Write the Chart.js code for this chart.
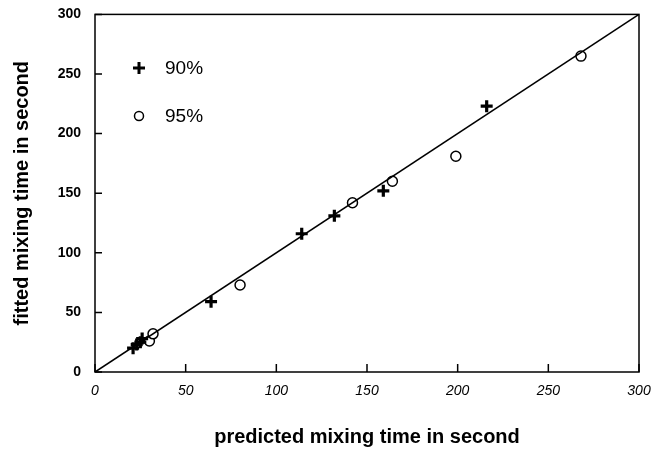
<html><head>
  <title>Mixing time: fitted vs predicted</title>
  <script src="https://cdn.jsdelivr.net/npm/chart.js"></script>
  <style>
    body { margin: 0; background: #fff; }
    #wrap { width: 654px; height: 454px; }
  </style>
</head>
<body>
  <div id="wrap"><canvas id="mixChart" width="654" height="454"></canvas></div>

  <script>
    // values
    const tickValues = [0, 50, 100, 150, 200, 250, 300];
    const x90 = [21, 23, 25, 26, 64, 114, 132, 159, 216];
    const y90 = [20, 23, 25, 28, 59, 116, 131, 152, 223];
    const x95 = [30, 32, 80, 142, 164, 199, 268];
    const y95 = [26, 32, 73, 142, 160, 181, 265];
    const fitX = [0, 300];
    const fitY = [0, 300];
    const legendLabels = ['90%', '95%'];

    const toPoints = (xs, ys) => xs.map((x, i) => ({ x: x, y: ys[i] }));

    // frame, inward ticks and the in-plot legend
    const framePlugin = {
      id: 'frame',
      afterDraw(chart) {
        const { ctx, chartArea: a, scales } = chart;
        ctx.save();
        ctx.strokeStyle = '#000';
        ctx.lineWidth = 1.5;
        ctx.strokeRect(a.left, a.top, a.right - a.left, a.bottom - a.top);
        ctx.beginPath();
        tickValues.forEach(v => {
          const px = scales.x.getPixelForValue(v);
          ctx.moveTo(px, a.bottom); ctx.lineTo(px, a.bottom - 8);
          const py = scales.y.getPixelForValue(v);
          ctx.moveTo(a.left, py); ctx.lineTo(a.left + 7, py);
        });
        ctx.stroke();

        // legend
        const lx = 139, ly = [68, 116];
        ctx.lineWidth = 3;
        ctx.beginPath();
        ctx.moveTo(lx - 6, ly[0]); ctx.lineTo(lx + 6, ly[0]);
        ctx.moveTo(lx, ly[0] - 6); ctx.lineTo(lx, ly[0] + 6);
        ctx.stroke();
        ctx.lineWidth = 1.5;
        ctx.beginPath();
        ctx.arc(lx, ly[1], 4.5, 0, Math.PI * 2);
        ctx.stroke();
        ctx.fillStyle = '#000';
        ctx.font = '19px "Liberation Sans", Arial, sans-serif';
        ctx.textBaseline = 'middle';
        legendLabels.forEach((t, i) => ctx.fillText(t, 165, ly[i] + 1));
        ctx.restore();
      }
    };

    new Chart(document.getElementById('mixChart'), {
      type: 'scatter',
      data: {
        datasets: [
          {
            label: 'fit',
            type: 'line',
            data: toPoints(fitX, fitY),
            borderColor: '#000',
            borderWidth: 1.6,
            pointRadius: 0,
            fill: false
          },
          {
            label: legendLabels[0],
            data: toPoints(x90, y90),
            pointStyle: 'cross',
            pointRadius: 6,
            borderWidth: 3.2,
            borderColor: '#000',
            backgroundColor: '#000'
          },
          {
            label: legendLabels[1],
            data: toPoints(x95, y95),
            pointStyle: 'circle',
            pointRadius: 5,
            borderWidth: 1.5,
            borderColor: '#000',
            backgroundColor: '#fff'
          }
        ]
      },
      options: {
        responsive: false,
        animation: false,
        layout: { padding: { top: 0, right: 15, left: 0, bottom: 0 } },
        plugins: {
          legend: { display: false },
          tooltip: { enabled: false }
        },
        scales: {
          x: {
            type: 'linear',
            min: 0, max: 300,
            afterFit: s => { s.height = 82; },
            afterBuildTicks: s => { s.ticks = tickValues.map(v => ({ value: v })); },
            grid: { display: false },
            border: { display: false },
            ticks: {
              color: '#000',
              padding: 3,
              maxRotation: 0,
              font: { family: '"Liberation Sans", Arial, sans-serif', size: 14, style: 'italic' }
            },
            title: {
              display: true,
              text: 'predicted mixing time in second',
              color: '#000',
              padding: { top: 0, bottom: 5 },
              font: { family: '"Liberation Sans", Arial, sans-serif', size: 20, weight: 'bold' }
            }
          },
          y: {
            type: 'linear',
            min: 0, max: 300,
            afterFit: s => { s.width = 95; },
            afterBuildTicks: s => { s.ticks = tickValues.map(v => ({ value: v })); },
            grid: { display: false },
            border: { display: false },
            ticks: {
              color: '#000',
              padding: 6,
              font: { family: '"Liberation Sans", Arial, sans-serif', size: 14, weight: 'bold' }
            },
            title: {
              display: true,
              text: 'fitted mixing time in second',
              color: '#000',
              padding: { top: 10, bottom: 0 },
              font: { family: '"Liberation Sans", Arial, sans-serif', size: 20, weight: 'bold' }
            }
          }
        }
      },
      plugins: [framePlugin]
    });
  </script>
</body></html>
